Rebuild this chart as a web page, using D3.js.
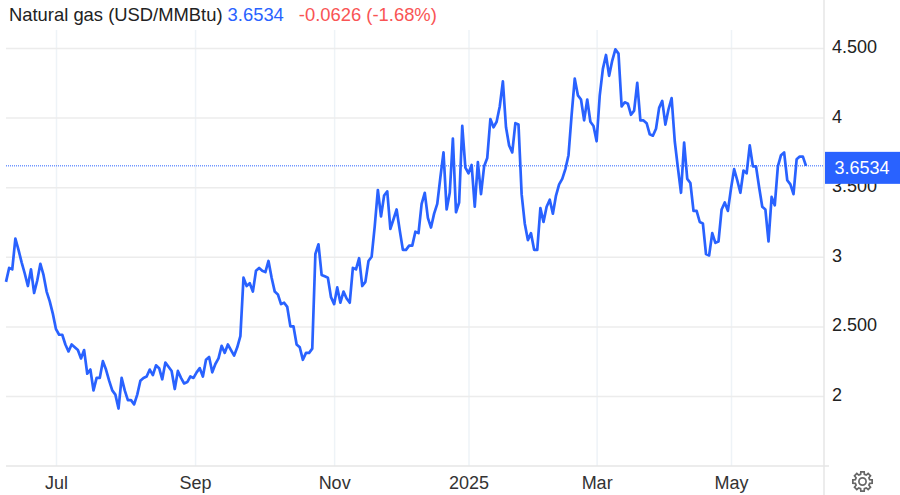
<!DOCTYPE html>
<html>
  <head>
    <meta http-equiv="Content-Type" content="text/html;charset=utf-8"/>
    <title>Natural gas</title>
    <script src="https://d3js.org/d3.v7.min.js"></script>
    <style>
        html, body { margin: 0; padding: 0; background: #fff; overflow: hidden; }
        text { font-family: "Liberation Sans", Arial, sans-serif; }
        .domain { display: none; }
    </style>
</head>
  <body>
    <div id="chart"></div>
    <script>
        const prices = [
            2.82,2.92,2.91,3.13,3.05,2.96,2.88,2.79,2.91,2.74,2.83,2.95,2.87,2.75,2.68,2.59,2.48,2.44,2.44,2.37,
            2.32,2.37,2.35,2.33,2.27,2.33,2.16,2.19,2.04,2.13,2.13,2.25,2.19,2.11,2.04,2.01,1.91,2.13,2.04,1.97,
            1.97,1.94,2.01,2.11,2.13,2.14,2.19,2.15,2.22,2.20,2.12,2.24,2.21,2.18,2.05,2.18,2.13,2.09,2.10,2.14,
            2.13,2.17,2.20,2.14,2.26,2.28,2.17,2.23,2.27,2.36,2.31,2.37,2.33,2.29,2.35,2.43,2.85,2.79,2.81,2.75,
            2.90,2.92,2.90,2.89,2.97,2.85,2.75,2.73,2.66,2.67,2.64,2.50,2.50,2.37,2.35,2.26,2.31,2.31,2.34,3.02,
            3.09,2.87,2.86,2.85,2.71,2.66,2.78,2.67,2.75,2.70,2.67,2.92,2.91,2.99,2.79,2.82,2.97,3.00,3.22,3.48,
            3.29,3.44,3.47,3.20,3.27,3.34,3.19,3.05,3.05,3.08,3.08,3.18,3.17,3.38,3.46,3.28,3.21,3.31,3.38,3.57,
            3.75,3.34,3.46,3.85,3.32,3.39,3.94,3.64,3.60,3.66,3.36,3.68,3.45,3.65,3.71,3.99,3.93,3.97,4.08,4.26,
            3.93,3.80,3.75,3.96,3.95,3.45,3.24,3.12,3.17,3.05,3.05,3.35,3.25,3.36,3.41,3.31,3.44,3.52,3.56,3.63,
            3.73,4.02,4.28,4.16,4.13,3.98,4.13,3.97,3.94,3.83,4.16,4.35,4.45,4.30,4.41,4.49,4.46,4.08,4.11,4.10,
            4.02,4.05,4.25,3.98,3.98,3.96,3.88,3.87,3.92,4.07,4.12,3.95,4.06,4.14,3.83,3.64,3.46,3.82,3.56,3.53,
            3.33,3.33,3.25,3.24,3.02,3.01,3.17,3.10,3.11,3.34,3.39,3.33,3.49,3.63,3.55,3.46,3.62,3.60,3.80,3.65,
            3.65,3.50,3.36,3.34,3.11,3.43,3.37,3.65,3.73,3.75,3.55,3.52,3.45,3.70,3.72,3.72,3.6534
        ];
        const lastPrice = 3.6534;
        const monthLabels = ["Jul","Sep","Nov","2025","Mar","May"];
        const monthIndex = [16,60.5,105,148,189,232];
        const priceTicks = [2,2.5,3,3.5,4,4.5];
        const priceLabels = ["2","2.500","3","3.500","4","4.500"];

        const blue = "#2962ff";
        const width = 900, height = 495;
        const left = 6, right = 824, bottom = 466;

        const svg = d3.select("#chart").append("svg")
            .attr("width", width)
            .attr("height", height);

        const x = d3.scaleLinear()
            .domain([0, prices.length - 1])
            .range([left, 806]);

        const y = d3.scaleLinear()
            .domain([2, 4.5])
            .range([396, 48]);

        // month gridlines + labels
        const xAxis = svg.append("g")
            .attr("transform", "translate(0," + bottom + ")")
            .call(d3.axisBottom(x)
                .tickValues(monthIndex)
                .tickFormat((d, i) => monthLabels[i])
                .tickSize(-(bottom - 30))
                .tickPadding(10));
        xAxis.selectAll("line").attr("stroke", "#eef3f7").attr("stroke-width", 1.5);
        xAxis.selectAll("text").attr("fill", "#333").style("font-size", "18px");

        // price gridlines + labels
        const yAxis = svg.append("g")
            .attr("transform", "translate(" + right + ",0)")
            .call(d3.axisRight(y)
                .tickValues(priceTicks)
                .tickFormat((d, i) => priceLabels[i])
                .tickSize(0)
                .tickPadding(8));
        yAxis.selectAll("line")
            .attr("x1", left - right)
            .attr("x2", 0)
            .attr("stroke", "#ececec")
            .attr("stroke-width", 1.5);
        yAxis.selectAll("text")
            .attr("fill", "#222")
            .attr("dy", "0.25em")
            .style("font-size", "18px");

        svg.append("line")
            .attr("x1", left).attr("x2", right + 5)
            .attr("y1", bottom).attr("y2", bottom)
            .attr("stroke", "#e6e6e6").attr("stroke-width", 1.5);
        svg.append("line")
            .attr("x1", right).attr("x2", right)
            .attr("y1", 0).attr("y2", height)
            .attr("stroke", "#e6e6e6").attr("stroke-width", 1.5);

        // last price marker line
        svg.append("line")
            .attr("x1", left).attr("x2", right)
            .attr("y1", y(lastPrice)).attr("y2", y(lastPrice))
            .attr("stroke", blue).attr("stroke-width", 1)
            .attr("stroke-dasharray", "1 1");

        const line = d3.line()
            .x((d, i) => x(i))
            .y(d => y(d));

        svg.append("path")
            .datum(prices)
            .attr("fill", "none")
            .attr("stroke", blue)
            .attr("stroke-width", 2.7)
            .attr("stroke-linejoin", "round")
            .attr("d", line);

        // price badge
        svg.append("rect")
            .attr("x", right + 1).attr("y", y(lastPrice) - 14)
            .attr("width", width - right - 1).attr("height", 32)
            .attr("fill", blue);
        svg.append("text")
            .attr("x", 862).attr("y", y(lastPrice) + 8.5)
            .attr("text-anchor", "middle")
            .attr("fill", "#fff")
            .style("font-size", "18px")
            .text(lastPrice);

        // header
        const header = svg.append("text")
            .attr("x", 9).attr("y", 21)
            .style("font-size", "18.4px");
        header.append("tspan").attr("fill", "#222").text("Natural gas (USD/MMBtu)");
        header.append("tspan").attr("fill", blue).attr("dx", 5).text(lastPrice);
        header.append("tspan").attr("fill", "#f95454").attr("dx", 15).text("-0.0626 (-1.68%)");

        // settings gear
        const teeth = 8, cx = 862.5, cy = 481.5;
        const gearPts = [];
        d3.range(teeth).forEach(i => {
            const a = i * 2 * Math.PI / teeth;
            [[-0.26, 7.4], [-0.17, 9.8], [0.17, 9.8], [0.26, 7.4]].forEach(p => {
                gearPts.push([cx + p[1] * Math.cos(a + p[0]), cy + p[1] * Math.sin(a + p[0])]);
            });
        });
        svg.append("path")
            .attr("d", d3.line().curve(d3.curveLinearClosed)(gearPts))
            .attr("fill", "none").attr("stroke", "#666").attr("stroke-width", 1.7);
        svg.append("circle")
            .attr("cx", cx).attr("cy", cy).attr("r", 3.6)
            .attr("fill", "none").attr("stroke", "#666").attr("stroke-width", 1.7);
    </script>
</body>
</html>
